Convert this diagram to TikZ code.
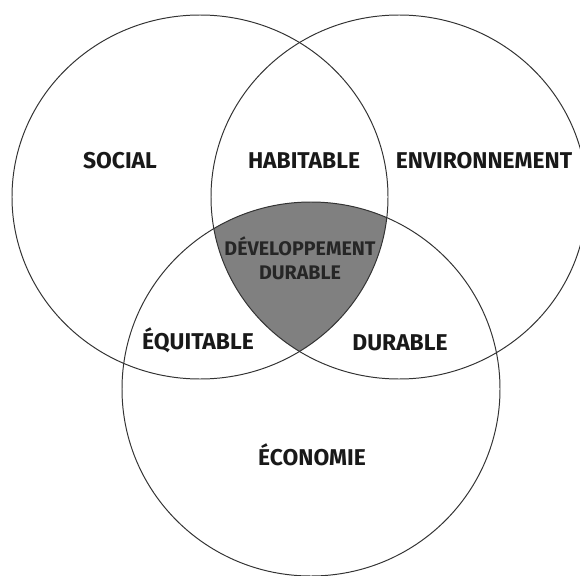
\documentclass[tikz,border=0pt]{standalone}
\usepackage{fontspec}
\setmainfont{Fira Sans}
\usetikzlibrary{positioning}

\tikzset{
  cercle/.style={black!80, line width=1.4pt},
  etiquette/.style={font=\bfseries\fontsize{32.5}{36}\selectfont, text=black!90, anchor=base, inner sep=0pt},
  centre/.style={font=\bfseries\fontsize{28}{31}\selectfont, text=black!85, anchor=base, inner sep=0pt}
}

\begin{document}
\begin{tikzpicture}[x=0.05cm, y=-0.05cm]

\useasboundingbox (0,0) rectangle (580,576);

% Zone commune (intersection des trois cercles)
\begin{scope}
  \clip (200,197) ellipse [x radius=188, y radius=182];
  \clip (399,197) ellipse [x radius=188, y radius=182];
  \fill[black!50] (311,389) ellipse [x radius=189, y radius=187];
\end{scope}

% Cercle social (gauche)
\draw[cercle] (200,197) ellipse [x radius=188, y radius=182];

% Cercle environnement (droite)
\draw[cercle] (399,197) ellipse [x radius=188, y radius=182];

% Cercle economie (bas)
\draw[cercle] (311,389) ellipse [x radius=189, y radius=187];

% Etiquettes
\node[etiquette] (social) at (120,168) {SOCIAL};
\node[etiquette] (habitable) at (304,168) {HABITABLE};
\node[etiquette] (environnement) at (484,168) {ENVIRONNEMENT};
\node[etiquette] (equitable) at (198,349) {ÉQUITABLE};
\node[etiquette] (durable) at (400,350) {DURABLE};
\node[etiquette] (economie) at (312,465) {ÉCONOMIE};

% Developpement durable au centre
\node[centre] (dev) at (300,255) {DÉVELOPPEMENT};
\node[centre] (devdurable) at (300,279) {DURABLE};

\end{tikzpicture}
\end{document}
